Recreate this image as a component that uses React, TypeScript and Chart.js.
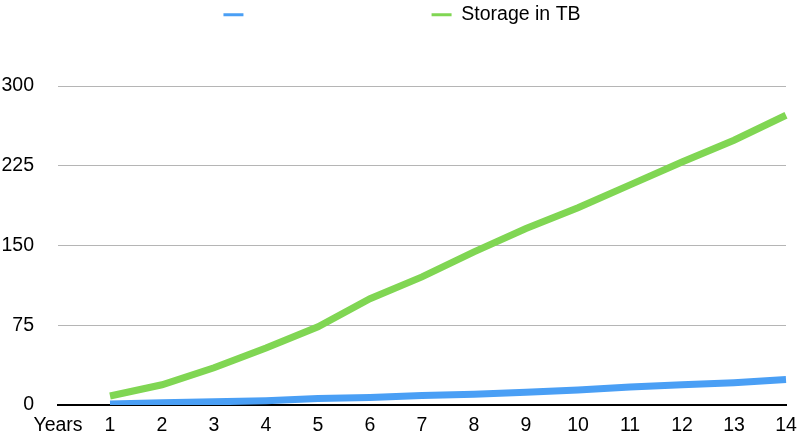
import React, { useEffect, useRef } from "react";
import { Chart, registerables } from "chart.js";

Chart.register(...registerables);

const categories = ["Years", "1", "2", "3", "4", "5", "6", "7", "8", "9", "10", "11", "12", "13", "14"];
const blueLabel = "                                ";
const greenLabel = "Storage in TB";
const blueValues = [null, 1, 2, 3, 4, 6, 7, 9, 10, 12, 14, 17, 19, 21, 24];
const greenValues = [null, 8.5, 19, 35, 53.5, 73.5, 100, 120.5, 144, 166, 185.5, 207, 228.5, 249, 272.5];
const yTicks = [0, 75, 150, 225, 300];

const FONT = "'Liberation Sans', Arial, Helvetica, sans-serif";

export default function App() {
  const ref = useRef<HTMLCanvasElement | null>(null);
  useEffect(() => {
    if (!ref.current) return;
    const legendPlugin = {
      id: "legendTweak",
      beforeInit(chart: any) {
        const legend = chart.legend;
        if (!legend) return;
        const orig = legend.fit;
        legend.fit = function () {
          orig.call(this);
          this.height = 86;
        };
      },
      afterLayout(chart: any) {
        const legend = chart.legend;
        if (!legend) return;
        legend.left += 9;
        legend.right += 9;
      },
    };
    const chart = new Chart(ref.current, {
      type: "line",
      data: {
        labels: categories,
        datasets: [
          {
            label: blueLabel,
            data: blueValues as any,
            borderColor: "#4a9ff5",
            backgroundColor: "#4a9ff5",
            borderWidth: 7,
            pointRadius: 0,
            tension: 0,
          },
          {
            label: greenLabel,
            data: greenValues as any,
            borderColor: "#80d653",
            backgroundColor: "#80d653",
            borderWidth: 7,
            pointRadius: 0,
            tension: 0,
          },
        ],
      },
      options: {
        animation: false,
        responsive: false,
        maintainAspectRatio: false,
        layout: { padding: { left: 0, right: 14, top: 0, bottom: 0 } },
        plugins: {
          tooltip: { enabled: false },
          legend: {
            position: "top",
            labels: {
              usePointStyle: true,
              pointStyle: "line",
              pointStyleWidth: 20,
              padding: 5,
              color: "#000",
              font: { family: FONT, size: 19.5 },
              generateLabels: (c: any) =>
                (Chart.defaults.plugins.legend.labels as any)
                  .generateLabels(c)
                  .map((l: any) => ({ ...l, lineWidth: 3 })),
            },
          },
        },
        scales: {
          x: {
            type: "category",
            offset: false,
            grid: { display: false, drawTicks: false },
            border: { display: true, color: "#000", width: 2 },
            ticks: {
              color: "#000",
              font: { family: FONT, size: 19.5 },
              padding: 9,
              maxRotation: 0,
              autoSkip: false,
            },
            afterFit: (s: any) => {
              s.height = 33;
              s.paddingLeft = 0;
              s.paddingRight = 0;
            },
          },
          y: {
            min: 0,
            max: 300,
            afterBuildTicks: (axis: any) => {
              axis.ticks = yTicks.map((v) => ({ value: v }));
            },
            grid: {
              drawTicks: false,
              color: (ctx: any) => (ctx.tick && ctx.tick.value === 0 ? "rgba(0,0,0,0)" : "#b5b5b5"),
              lineWidth: 1,
            },
            border: { display: false },
            ticks: {
              color: "#000",
              font: { family: FONT, size: 19.5 },
              padding: 24,
            },
            afterFit: (s: any) => {
              s.width = 58;
              s.paddingTop = 0;
              s.paddingBottom = 0;
            },
          },
        },
      },
      plugins: [legendPlugin],
    });
    return () => chart.destroy();
  }, []);
  return (
    <div style={{ position: "absolute", left: 0, top: 0, width: 800, height: 438, background: "#fff" }}>
      <canvas ref={ref} width={800} height={438} style={{ display: "block" }} />
    </div>
  );
}
